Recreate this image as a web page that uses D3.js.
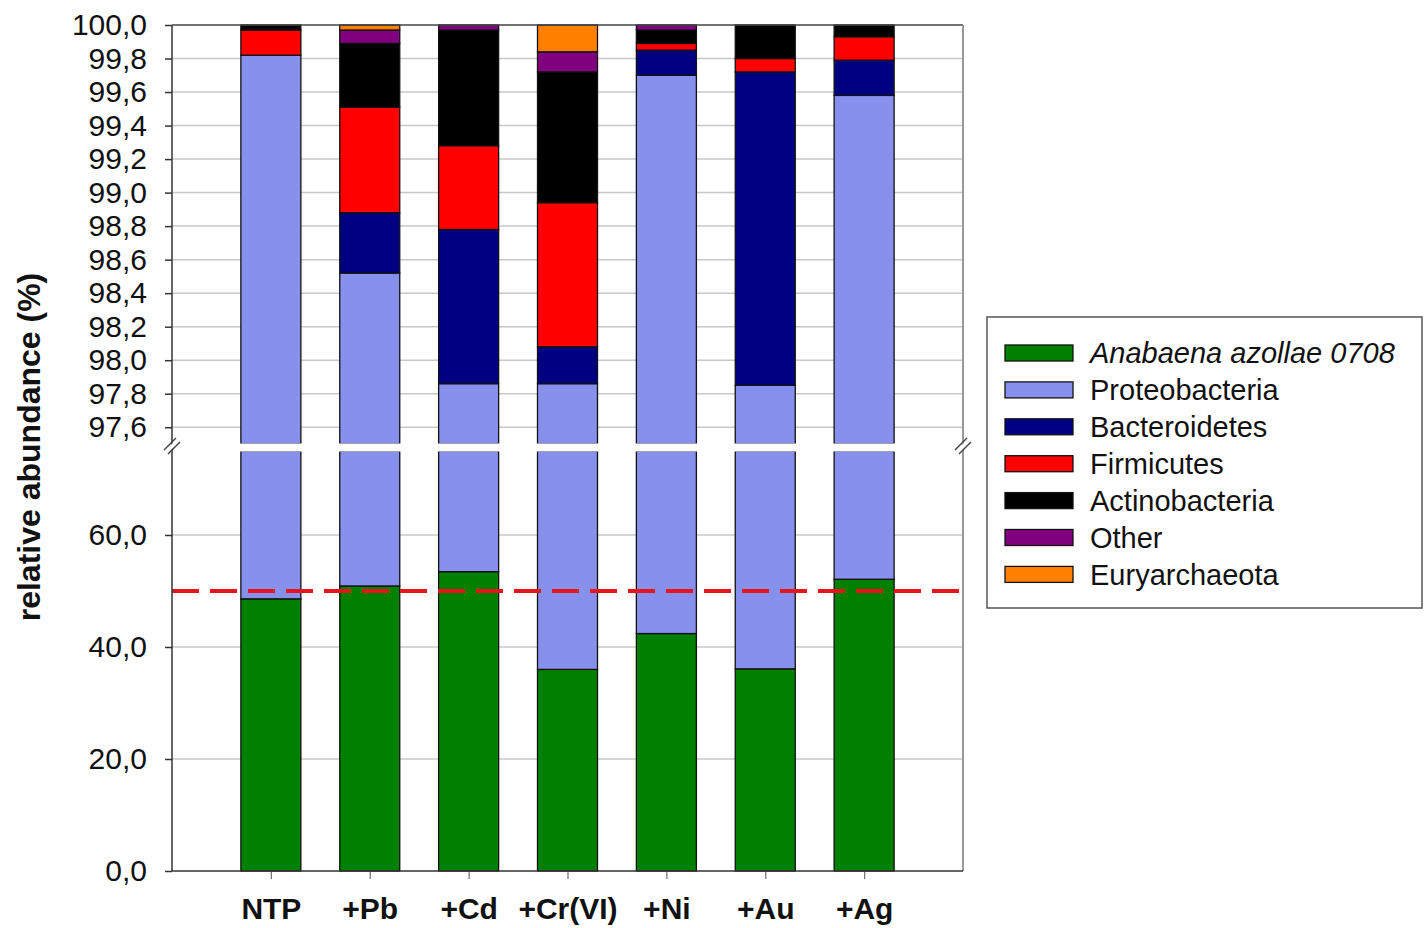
<!DOCTYPE html>
<html>
<head>
<meta charset="utf-8">
<script src="https://cdn.jsdelivr.net/npm/d3@7"></script>
<style>
  html, body { margin: 0; padding: 0; background: #fff; }
  svg { display: block; font-family: "Liberation Sans", Arial, sans-serif; }
</style>
</head>
<body>
<svg id="chart" width="1425" height="928"></svg>
<script>
// ---- data ----
const categories = ["NTP", "+Pb", "+Cd", "+Cr(VI)", "+Ni", "+Au", "+Ag"];
const seriesNames = ["Anabaena azollae 0708", "Proteobacteria", "Bacteroidetes", "Firmicutes", "Actinobacteria", "Other", "Euryarchaeota"];
const anabaena       = [48.6, 50.9, 53.45, 36.0, 42.4, 36.1, 52.1];
const proteobacteria = [51.22, 47.62, 44.41, 61.86, 57.30, 61.75, 47.48];
const bacteroidetes  = [0.00, 0.36, 0.92, 0.22, 0.15, 1.87, 0.21];
const firmicutes     = [0.15, 0.63, 0.50, 0.86, 0.04, 0.08, 0.14];
const actinobacteria = [0.03, 0.38, 0.69, 0.78, 0.08, 0.20, 0.07];
const other          = [0.00, 0.08, 0.03, 0.12, 0.03, 0.00, 0.00];
const euryarchaeota  = [0.00, 0.03, 0.00, 0.16, 0.00, 0.00, 0.00];
const upperTicks = [97.6, 97.8, 98.0, 98.2, 98.4, 98.6, 98.8, 99.0, 99.2, 99.4, 99.6, 99.8, 100.0];
const lowerTicks = [0, 20, 40, 60];
const thresholdValue = 50;
const colors = ["#008000", "#8890ee", "#000080", "#ff0000", "#000000", "#800080", "#ff8000"];

// ---- build table ----
const seriesArrays = [anabaena, proteobacteria, bacteroidetes, firmicutes, actinobacteria, other, euryarchaeota];
const table = categories.map((c, i) => {
  const row = { cat: c };
  seriesNames.forEach((s, k) => row[s] = seriesArrays[k][i]);
  return row;
});
const stacked = d3.stack().keys(seriesNames)(table);

const svg = d3.select("#chart");
const L = 172, R = 963, T = 25, B = 871;
const x = d3.scalePoint().domain(categories).range([L, R]).padding(1);
const barW = 60;
const yTop = d3.scaleLinear().domain([97.5, 100]).range([444, T]);
const yBot = d3.scaleLinear().domain([0, 75]).range([B, 451]);
const fmt = d => d.toFixed(1).replace(".", ",");

// gridlines
const grid = svg.append("g").attr("stroke", "#c8c8c8").attr("stroke-width", 1.5);
upperTicks.filter(t => t < 100).forEach(t => {
  grid.append("line").attr("x1", L).attr("x2", R).attr("y1", yTop(t)).attr("y2", yTop(t));
});
lowerTicks.filter(t => t > 0).forEach(t => {
  grid.append("line").attr("x1", L).attr("x2", R).attr("y1", yBot(t)).attr("y2", yBot(t));
});

// bars
function drawPanel(scale, lo, hi) {
  const g = svg.append("g");
  stacked.forEach((layer, k) => {
    layer.forEach((d, i) => {
      const a = Math.max(d[0], lo), b = Math.min(d[1], hi);
      if (b - a <= 1e-9) return;
      g.append("rect")
        .attr("x", x(categories[i]) - barW / 2)
        .attr("width", barW)
        .attr("y", scale(b))
        .attr("height", scale(a) - scale(b))
        .attr("fill", colors[k])
        .attr("stroke", "#111")
        .attr("stroke-width", 1.3);
    });
  });
}
drawPanel(yTop, 97.5, 100);
drawPanel(yBot, 0, 75);

// break band
svg.append("rect").attr("x", L + 1).attr("width", R - L - 2).attr("y", 443.5).attr("height", 8).attr("fill", "#fff");

// threshold line
svg.append("line")
  .attr("x1", L).attr("x2", R)
  .attr("y1", yBot(thresholdValue)).attr("y2", yBot(thresholdValue))
  .attr("stroke", "#e8141c").attr("stroke-width", 4)
  .attr("stroke-dasharray", "27,11");

// frame
svg.append("line").attr("x1", L).attr("x2", R).attr("y1", T).attr("y2", T).attr("stroke", "#444").attr("stroke-width", 1.5);
svg.append("line").attr("x1", R).attr("x2", R).attr("y1", T).attr("y2", B).attr("stroke", "#999").attr("stroke-width", 2);

// y axes
const axUp = svg.append("g").attr("transform", `translate(${L},0)`)
  .call(d3.axisLeft(yTop).tickValues(upperTicks).tickFormat(fmt).tickSize(7).tickSizeOuter(0).tickPadding(18));
const axLo = svg.append("g").attr("transform", `translate(${L},0)`)
  .call(d3.axisLeft(yBot).tickValues(lowerTicks).tickFormat(fmt).tickSize(7).tickSizeOuter(0).tickPadding(18));
[axUp, axLo].forEach(ax => {
  ax.select(".domain").remove();
  ax.selectAll(".tick line").attr("stroke", "#333").attr("stroke-width", 1.5);
  ax.selectAll(".tick text").attr("font-size", 30).attr("fill", "#111").attr("font-family", "Liberation Sans, Arial, sans-serif");
});
svg.append("line").attr("x1", L).attr("x2", L).attr("y1", T).attr("y2", B).attr("stroke", "#333").attr("stroke-width", 1.5);

// x axis
const axX = svg.append("g").attr("transform", `translate(0,${B})`)
  .call(d3.axisBottom(x).tickSize(8).tickSizeOuter(0).tickPadding(19));
axX.select(".domain").remove();
axX.selectAll(".tick line").attr("stroke", "#777").attr("stroke-width", 1.3);
axX.selectAll(".tick text").attr("font-size", 30).attr("font-weight", "bold").attr("fill", "#111")
  .attr("font-family", "Liberation Sans, Arial, sans-serif").attr("dy", "0.71em");
svg.append("line").attr("x1", L).attr("x2", R).attr("y1", B).attr("y2", B).attr("stroke", "#333").attr("stroke-width", 1.5);

// break marks
function breakMark(cx, cy) {
  svg.append("polygon")
    .attr("points", `${cx - 7},${cy + 8} ${cx + 5},${cy - 4} ${cx + 7},${cy - 1} ${cx - 5},${cy + 11}`)
    .attr("fill", "#fff");
  [[-8, 7, 4, -5], [-4, 11, 8, -1]].forEach(p => {
    svg.append("line")
      .attr("x1", cx + p[0]).attr("y1", cy + p[1]).attr("x2", cx + p[2]).attr("y2", cy + p[3])
      .attr("stroke", "#444").attr("stroke-width", 1.5);
  });
}
breakMark(L, 443);
breakMark(R, 443);

// y title
svg.append("text")
  .attr("transform", "translate(40,447) rotate(-90)")
  .attr("text-anchor", "middle")
  .attr("font-size", 32).attr("font-weight", "bold").attr("fill", "#111")
  .text("relative abundance (%)");

// legend
const lg = svg.append("g");
lg.append("rect").attr("x", 987).attr("y", 317).attr("width", 435).attr("height", 291)
  .attr("fill", "#fff").attr("stroke", "#555").attr("stroke-width", 1.5);
seriesNames.forEach((s, k) => {
  const cy = 353 + k * 36.9;
  lg.append("rect").attr("x", 1005).attr("y", cy - 8).attr("width", 68).attr("height", 16)
    .attr("fill", colors[k]).attr("stroke", "#111").attr("stroke-width", 1.3);
  lg.append("text").attr("x", 1090).attr("y", cy).attr("dy", "0.36em")
    .attr("font-size", 29).attr("fill", "#111")
    .attr("font-style", k === 0 ? "italic" : "normal")
    .text(s);
});
</script>
</body>
</html>
